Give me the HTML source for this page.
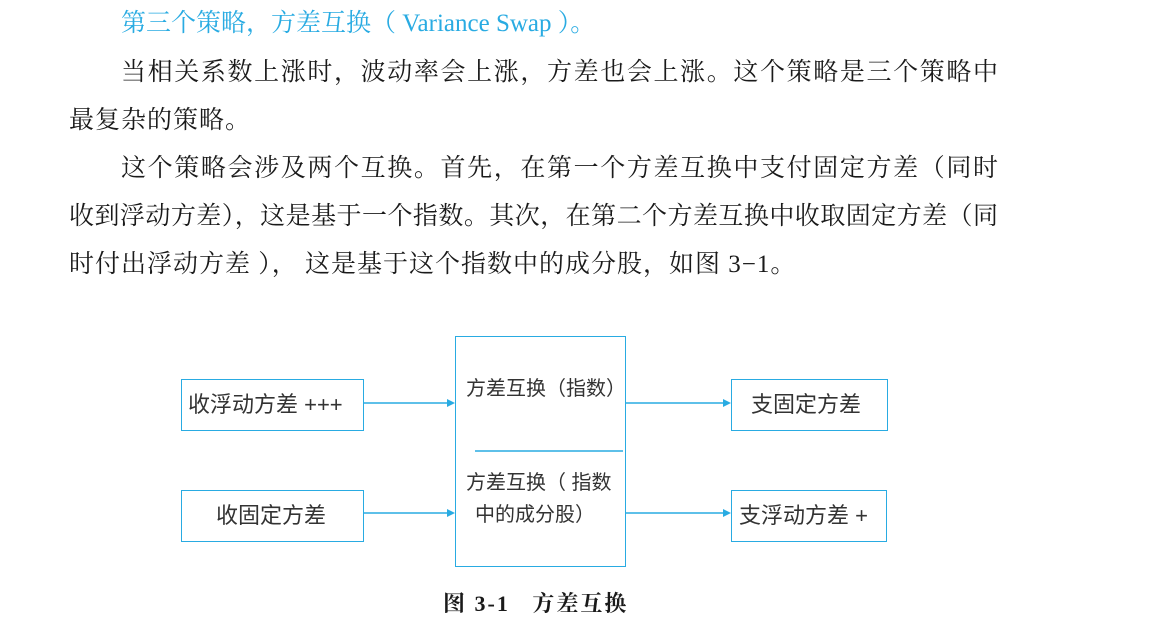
<!DOCTYPE html>
<html><head><meta charset="utf-8">
<style>
html,body{margin:0;padding:0;background:#fff;}
body{width:1155px;height:643px;position:relative;overflow:hidden;font-family:"Liberation Serif","Noto Serif CJK SC",serif;color:#1a1a1a;}
.l{position:absolute;font-size:25px;line-height:30px;white-space:nowrap;}
.j{text-align:justify;text-align-last:justify;white-space:normal;}
.box{position:absolute;border:1.5px solid #29abe2;box-sizing:border-box;}
.t{position:absolute;font-family:"Liberation Sans","Noto Sans CJK SC",sans-serif;font-size:22px;color:#333;white-space:nowrap;line-height:26px;}
</style></head><body>
<div class="l" style="left:121px;top:9px;color:#29abe2;">第三个策略，方差互换（ Variance Swap ）。</div>
<div class="l j" style="left:121px;top:58px;width:877px;">当相关系数上涨时，波动率会上涨，方差也会上涨。这个策略是三个策略中</div>
<div class="l" style="left:69px;top:106px;letter-spacing:1px;">最复杂的策略。</div>
<div class="l j" style="left:121px;top:154px;width:877px;">这个策略会涉及两个互换。首先，在第一个方差互换中支付固定方差（同时</div>
<div class="l j" style="left:69px;top:202px;width:929px;">收到浮动方差），这是基于一个指数。其次，在第二个方差互换中收取固定方差（同</div>
<div class="l" style="left:69px;top:250px;letter-spacing:1px;">时付出浮动方差 ）， 这是基于这个指数中的成分股，如图 3−1。</div>

<div class="box" style="left:181px;top:379px;width:183px;height:52px;"></div>
<div class="t" style="left:188px;top:392px;">收浮动方差 +++</div>
<div class="box" style="left:181px;top:490px;width:183px;height:52px;"></div>
<div class="t" style="left:216px;top:503px;">收固定方差</div>
<div class="box" style="left:455px;top:336px;width:171px;height:231px;"></div>
<div class="t" style="left:466px;top:376px;font-size:20px;">方差互换（指数）</div>
<div class="t" style="left:466px;top:470px;font-size:20px;">方差互换（ 指数</div>
<div class="t" style="left:475px;top:502px;font-size:20px;">中的成分股）</div>
<div class="box" style="left:731px;top:379px;width:157px;height:52px;"></div>
<div class="t" style="left:751px;top:392px;">支固定方差</div>
<div class="box" style="left:731px;top:490px;width:156px;height:52px;"></div>
<div class="t" style="left:739px;top:503px;">支浮动方差 +</div>

<svg style="position:absolute;left:0;top:0" width="1155" height="643">
<g stroke="#29abe2" stroke-width="1.5" fill="#29abe2">
<line x1="475" y1="451" x2="623" y2="451"/>
<line x1="364" y1="403" x2="448" y2="403"/><polygon points="455,403 447,399 447,407" stroke="none"/>
<line x1="364" y1="513" x2="448" y2="513"/><polygon points="455,513 447,509 447,517" stroke="none"/>
<line x1="626" y1="403" x2="724" y2="403"/><polygon points="731,403 723,399 723,407" stroke="none"/>
<line x1="626" y1="513" x2="724" y2="513"/><polygon points="731,513 723,509 723,517" stroke="none"/>
</g></svg>

<div class="l" style="left:443px;top:589px;font-size:22px;font-weight:bold;letter-spacing:2px;">图 3-1&nbsp;&nbsp; 方差互换</div>
</body></html>
